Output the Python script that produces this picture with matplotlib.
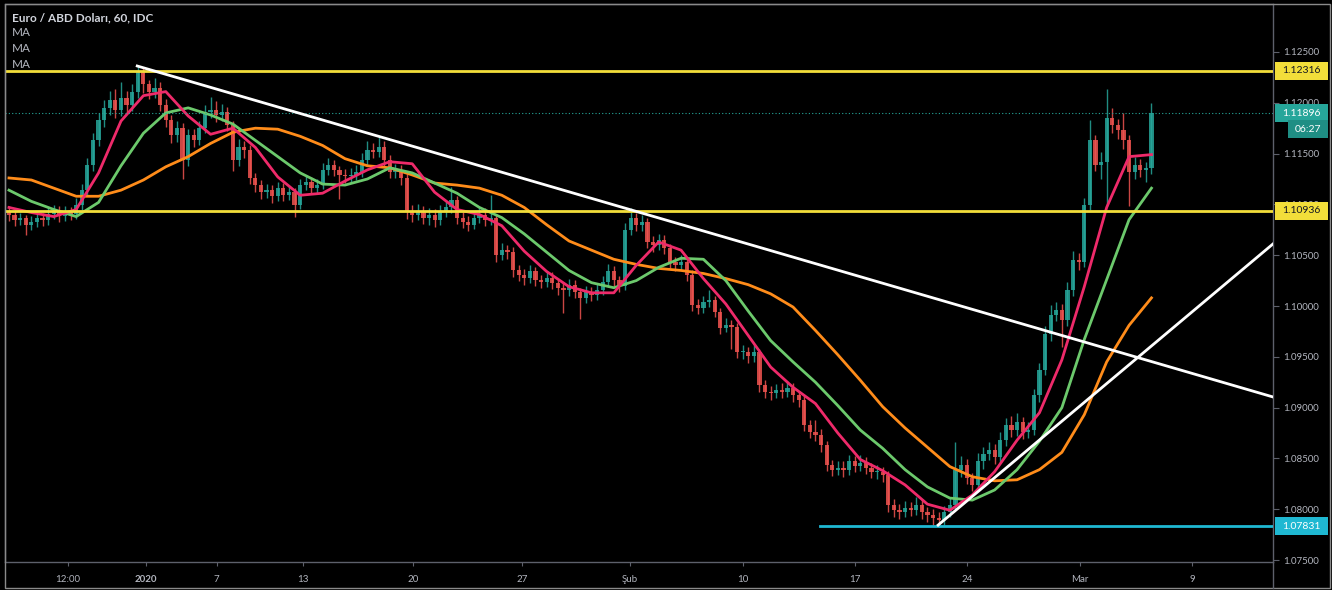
import matplotlib
matplotlib.use('Agg')
import matplotlib.pyplot as plt
from matplotlib.lines import Line2D
from matplotlib.patches import Rectangle
from matplotlib.ticker import FormatStrFormatter
import numpy as np

plt.rcParams['font.family'] = ['Lato', 'DejaVu Sans']

# EUR/USD, candles resampled to 6 hours
first_open = 1.1093
closes = [
    1.1090, 1.1085, 1.1087, 1.1080, 1.1083, 1.1087, 1.1085, 1.1091, 1.1093, 1.1089,
    1.1093, 1.1091, 1.1099, 1.1114, 1.1139, 1.1163, 1.1183, 1.1195, 1.1203, 1.1193,
    1.1205, 1.1198, 1.1211, 1.1230, 1.1218, 1.1211, 1.1215, 1.1198, 1.1183, 1.1168,
    1.1175, 1.1144, 1.1168, 1.1163, 1.1175, 1.1191, 1.1193, 1.1188, 1.1191, 1.1178,
    1.1144, 1.1156, 1.1154, 1.1126, 1.1119, 1.1112, 1.1114, 1.1108, 1.1116, 1.1109,
    1.1112, 1.1099, 1.1119, 1.1122, 1.1116, 1.1119, 1.1134, 1.1139, 1.1134, 1.1129,
    1.1128, 1.1129, 1.1132, 1.1144, 1.1154, 1.1152, 1.1156, 1.1144, 1.1132, 1.1134,
    1.1126, 1.1093, 1.1090, 1.1093, 1.1087, 1.1090, 1.1085, 1.1093, 1.1097, 1.1104,
    1.1087, 1.1083, 1.1080, 1.1087, 1.1090, 1.1085, 1.1087, 1.1050, 1.1055, 1.1053,
    1.1035, 1.1031, 1.1028, 1.1034, 1.1026, 1.1024, 1.1028, 1.1023, 1.1018, 1.1016,
    1.1021, 1.1014, 1.1008, 1.1014, 1.1011, 1.1016, 1.1024, 1.1034, 1.1026, 1.1020,
    1.1075, 1.1087, 1.1080, 1.1083, 1.1063, 1.1060, 1.1065, 1.1057, 1.1043, 1.1040,
    1.1043, 1.1031, 1.1001, 1.0998, 1.1004, 1.1006, 1.0994, 1.0978, 1.0981, 1.0979,
    1.0955, 1.0955, 1.0951, 1.0955, 1.0922, 1.0915, 1.0914, 1.0917, 1.0915, 1.0919,
    1.0912, 1.0908, 1.0883, 1.0876, 1.0873, 1.0863, 1.0844, 1.0839, 1.0841, 1.0839,
    1.0847, 1.0843, 1.0846, 1.0841, 1.0837, 1.0837, 1.0834, 1.0804, 1.0799, 1.0797,
    1.0801, 1.0799, 1.0804, 1.0797, 1.0794, 1.0791, 1.0789, 1.0797, 1.0804, 1.0839,
    1.0844, 1.0831, 1.0824, 1.0847, 1.0854, 1.0858, 1.0851, 1.0868, 1.0883, 1.0878,
    1.0886, 1.0876, 1.0878, 1.0912, 1.0937, 1.0972, 1.0991, 1.0996, 1.0986, 1.1016,
    1.1045, 1.1043, 1.1099, 1.1163, 1.1139, 1.1142, 1.1185, 1.1178, 1.1173, 1.1163,
    1.1132, 1.1139, 1.1134, 1.1136, 1.1190,
]
highs = [
    1.1098, 1.1094, 1.1092, 1.1090, 1.1089, 1.1093, 1.1092, 1.1097, 1.1099, 1.1098,
    1.1098, 1.1097, 1.1106, 1.1120, 1.1146, 1.1170, 1.1190, 1.1203, 1.1212, 1.1214,
    1.1220, 1.1212, 1.1218, 1.1236, 1.1234, 1.1222, 1.1224, 1.1220, 1.1204, 1.1188,
    1.1182, 1.1180, 1.1174, 1.1174, 1.1182, 1.1198, 1.1206, 1.1202, 1.1199, 1.1196,
    1.1182, 1.1164, 1.1162, 1.1158, 1.1131, 1.1124, 1.1120, 1.1119, 1.1122, 1.1121,
    1.1118, 1.1116, 1.1125, 1.1128, 1.1127, 1.1125, 1.1141, 1.1146, 1.1144, 1.1138,
    1.1135, 1.1136, 1.1139, 1.1151, 1.1162, 1.1160, 1.1166, 1.1162, 1.1149, 1.1140,
    1.1139, 1.1130, 1.1099, 1.1100, 1.1098, 1.1096, 1.1095, 1.1099, 1.1103, 1.1117,
    1.1108, 1.1093, 1.1089, 1.1093, 1.1096, 1.1096, 1.1109, 1.1091, 1.1062, 1.1060,
    1.1058, 1.1040, 1.1036, 1.1040, 1.1038, 1.1031, 1.1034, 1.1033, 1.1027, 1.1024,
    1.1027, 1.1026, 1.1018, 1.1020, 1.1019, 1.1022, 1.1030, 1.1041, 1.1039, 1.1030,
    1.1082, 1.1096, 1.1092, 1.1090, 1.1087, 1.1069, 1.1071, 1.1070, 1.1061, 1.1048,
    1.1050, 1.1048, 1.1035, 1.1007, 1.1010, 1.1016, 1.1010, 1.0998, 1.0988, 1.0986,
    1.0983, 1.0962, 1.0960, 1.0962, 1.0958, 1.0927, 1.0921, 1.0923, 1.0924, 1.0926,
    1.0924, 1.0916, 1.0912, 1.0888, 1.0888, 1.0879, 1.0867, 1.0848, 1.0847, 1.0847,
    1.0853, 1.0852, 1.0853, 1.0851, 1.0846, 1.0844, 1.0842, 1.0838, 1.0810, 1.0805,
    1.0808, 1.0807, 1.0812, 1.0810, 1.0802, 1.0800, 1.0797, 1.0803, 1.0811, 1.0866,
    1.0852, 1.0849, 1.0836, 1.0855, 1.0861, 1.0866, 1.0864, 1.0876, 1.0890, 1.0892,
    1.0895, 1.0891, 1.0886, 1.0918, 1.0944, 1.0980, 1.1001, 1.1004, 1.1002, 1.1024,
    1.1054, 1.1052, 1.1106, 1.1183, 1.1168, 1.1152, 1.1214, 1.1195, 1.1184, 1.1190,
    1.1168, 1.1147, 1.1145, 1.1142, 1.1200,
]
lows = [
    1.1084, 1.1079, 1.1080, 1.1070, 1.1075, 1.1078, 1.1079, 1.1080, 1.1086, 1.1083,
    1.1084, 1.1085, 1.1086, 1.1094, 1.1109, 1.1133, 1.1157, 1.1176, 1.1188, 1.1185,
    1.1187, 1.1190, 1.1192, 1.1205, 1.1210, 1.1204, 1.1205, 1.1192, 1.1176, 1.1160,
    1.1161, 1.1125, 1.1138, 1.1156, 1.1158, 1.1170, 1.1185, 1.1181, 1.1182, 1.1172,
    1.1133, 1.1138, 1.1146, 1.1120, 1.1112, 1.1105, 1.1106, 1.1101, 1.1103, 1.1103,
    1.1104, 1.1088, 1.1095, 1.1114, 1.1110, 1.1111, 1.1115, 1.1129, 1.1128, 1.1105,
    1.1121, 1.1122, 1.1124, 1.1127, 1.1139, 1.1146, 1.1147, 1.1138, 1.1126, 1.1126,
    1.1119, 1.1086, 1.1083, 1.1085, 1.1081, 1.1080, 1.1078, 1.1080, 1.1088, 1.1092,
    1.1081, 1.1077, 1.1074, 1.1076, 1.1082, 1.1079, 1.1080, 1.1043, 1.1045, 1.1046,
    1.1029, 1.1025, 1.1021, 1.1023, 1.1020, 1.1018, 1.1019, 1.1017, 1.1011, 1.0993,
    1.1010, 1.1008, 1.0987, 1.1003, 1.1005, 1.1006, 1.1011, 1.1019, 1.1020, 1.1014,
    1.1016, 1.1070, 1.1074, 1.1074, 1.1057, 1.1053, 1.1055, 1.1051, 1.1037, 1.1034,
    1.1035, 1.1025, 1.0995, 1.0992, 1.0993, 1.0999, 1.0989, 1.0972, 1.0974, 1.0958,
    1.0949, 1.0948, 1.0944, 1.0945, 1.0915, 1.0909, 1.0908, 1.0909, 1.0909, 1.0910,
    1.0906, 1.0901, 1.0877, 1.0870, 1.0867, 1.0856, 1.0838, 1.0833, 1.0834, 1.0832,
    1.0834, 1.0837, 1.0838, 1.0835, 1.0831, 1.0830, 1.0827, 1.0797, 1.0792, 1.0790,
    1.0792, 1.0793, 1.0794, 1.0790, 1.0787, 1.0785, 1.0783, 1.0785, 1.0792, 1.0800,
    1.0832, 1.0825, 1.0818, 1.0820, 1.0840, 1.0848, 1.0845, 1.0846, 1.0862, 1.0871,
    1.0872, 1.0869, 1.0870, 1.0873, 1.0906, 1.0932, 1.0966, 1.0985, 1.0960, 1.0980,
    1.1010, 1.1035, 1.1038, 1.1094, 1.1133, 1.1125, 1.1098, 1.1170, 1.1164, 1.1155,
    1.1098, 1.1125, 1.1127, 1.1122, 1.1130,
]
opens = [first_open] + closes[:-1]

# three moving averages, read every 4th candle
ma_idx = list(range(0, 205, 4))
ma_fast = [
    1.1097, 1.1092, 1.1088, 1.1095, 1.1131, 1.1182, 1.1207, 1.1211, 1.1187, 1.1169,
    1.1175, 1.1156, 1.1127, 1.1109, 1.1111, 1.1123, 1.1134, 1.1142, 1.1140, 1.1112,
    1.1095, 1.1090, 1.1079, 1.1054, 1.1034, 1.1019, 1.1013, 1.1013, 1.1040, 1.1063,
    1.1055, 1.1027, 1.1002, 1.0971, 1.0940, 1.0920, 1.0904, 1.0875, 1.0849, 1.0838,
    1.0824, 1.0805, 1.0799, 1.0814, 1.0837, 1.0868, 1.0895, 1.0947, 1.1019, 1.1097,
    1.1147, 1.1149,
]
ma_mid = [
    1.1114, 1.1103, 1.1095, 1.1088, 1.1102, 1.1138, 1.1170, 1.1190, 1.1195, 1.1188,
    1.1179, 1.1163, 1.1147, 1.1131, 1.1120, 1.1119, 1.1125, 1.1136, 1.1131, 1.1121,
    1.1111, 1.1097, 1.1087, 1.1071, 1.1053, 1.1035, 1.1023, 1.1018, 1.1025, 1.1038,
    1.1047, 1.1046, 1.1025, 1.0995, 1.0966, 1.0945, 1.0925, 1.0902, 1.0878, 1.0860,
    1.0839, 1.0822, 1.0811, 1.0809, 1.0819, 1.0839, 1.0867, 1.0900, 1.0967, 1.1026,
    1.1085, 1.1116,
]
ma_slow = [
    1.1126, 1.1124, 1.1116, 1.1108, 1.1108, 1.1114, 1.1124, 1.1137, 1.1147, 1.1160,
    1.1171, 1.1175, 1.1174, 1.1167, 1.1158, 1.1145, 1.1138, 1.1136, 1.1129, 1.1121,
    1.1119, 1.1116, 1.1109, 1.1097, 1.1080, 1.1064, 1.1055, 1.1046, 1.1041, 1.1037,
    1.1035, 1.1032, 1.1027, 1.1021, 1.1012, 1.0999, 1.0976, 1.0952, 1.0927, 1.0901,
    1.0880, 1.0861, 1.0842, 1.0832, 1.0828, 1.0829, 1.0839, 1.0856, 1.0893, 1.0945,
    1.0981, 1.1008,
]

# drawn levels and trend lines
level_top = 1.12316
level_mid = 1.10936
level_support = 1.07831
support_from = 144.8
last_price = 1.11896
down_x = [22.9, 225.7]
down_y = [1.12362, 1.09105]
up_x = [165.9, 225.7]
up_y = [1.07844, 1.10611]

x_tick_pos = [10.5, 24.5, 37.1, 52.5, 72.1, 91.6, 110.9, 131.1, 151.1, 171.1, 191.25, 211.25]
x_tick_labels = ['12:00', '2020', '7', '13', '20', '27', 'Şub', '10', '17', '24', 'Mar', '9']
y_ticks = [1.075, 1.080, 1.085, 1.090, 1.095, 1.100, 1.105, 1.110, 1.115, 1.120, 1.125]

UP = '#26a69a'
DOWN = '#ef5350'
YELLOW = '#f2de3a'
CYAN = '#1fb8d2'
GRID = '#5d606b'
TXT = '#b2b5be'

W, H = 1332, 590
fig = plt.figure(figsize=(W / 100, H / 100), dpi=100, facecolor='black')
ax = fig.add_axes([5 / W, 1 - 562 / H, (1273 - 5) / W, (562 - 4) / H])
ax.set_facecolor('black')
xlo, xhi = -0.71, 225.7
ax.set_xlim(xlo, xhi)
ax.set_ylim(1.07481, 1.12972)

# candles
x = np.arange(len(closes))
o = np.array(opens)
c = np.array(closes)
colors = np.where(c >= o, UP, DOWN)
ax.vlines(x, lows, highs, colors=colors, linewidth=1, alpha=0.85, zorder=2)
ax.bar(x, np.maximum(np.abs(c - o), 0.00004), bottom=np.minimum(o, c),
       width=0.75, color=colors, linewidth=0, alpha=0.85, zorder=2)

# moving averages
ax.plot(ma_idx, ma_slow, color='#ff8c1a', lw=2, zorder=3)
ax.plot(ma_idx, ma_mid, color='#6cc96c', lw=2, zorder=3)
ax.plot(ma_idx, ma_fast, color='#ee2a6a', lw=2, zorder=3)

# levels
ax.axhline(level_top, color=YELLOW, lw=2, zorder=4)
ax.axhline(level_mid, color=YELLOW, lw=2, zorder=4)
ax.axhline(level_support, xmin=(support_from - xlo) / (xhi - xlo), color=CYAN, lw=2, zorder=4)
ax.axhline(last_price, color=UP, lw=0.8, ls=(0, (1, 2)), zorder=4)
ax.plot(down_x, down_y, color='white', lw=2, zorder=5)
ax.plot(up_x, up_y, color='white', lw=2, zorder=5)

# axes styling
for s in ax.spines.values():
    s.set_color(GRID)
    s.set_linewidth(1)
ax.yaxis.tick_right()
ax.set_yticks(y_ticks)
ax.yaxis.set_major_formatter(FormatStrFormatter('%.5f'))
ax.tick_params(axis='y', colors=GRID, labelcolor=TXT, labelsize=7, length=4, pad=3)
ax.set_xticks(x_tick_pos)
ax.set_xticklabels(x_tick_labels)
ax.tick_params(axis='x', colors=GRID, labelcolor=TXT, labelsize=7, length=3, pad=6)
ax.get_xticklabels()[1].set_fontweight('bold')

# price tags on the right axis
per_px = (1.12972 - 1.07481) / 558
tr = ax.get_yaxis_transform()


def price_tag(price, label, face, color, x0=1.0016, width=0.0419):
    ax.add_patch(Rectangle((x0, price - 9 * per_px), width, 18 * per_px, transform=tr,
                           fc=face, ec='none', clip_on=False, zorder=6))
    ax.text(x0 + 0.0054, price, label, transform=tr, color=color, fontsize=7.5,
            va='center', ha='left', zorder=7, clip_on=False)


price_tag(level_top, f'{level_top:.5f}', YELLOW, '#131722')
price_tag(level_mid, f'{level_mid:.5f}', YELLOW, '#131722')
price_tag(level_support, f'{level_support:.5f}', CYAN, 'white')
price_tag(last_price, f'{last_price:.5f}', UP, 'white')
price_tag(last_price - 16 * per_px, '06:27', '#1f8e84', 'white', x0=1.0118, width=0.0316)

# header
fig.text(12 / W, 1 - 18 / H, 'Euro / ABD Doları, 60, IDC', color='#d1d4dc',
         fontsize=8.5, fontweight='bold', va='center')
for ty in (33, 48, 64):
    fig.text(12 / W, 1 - ty / H, 'MA', color=TXT, fontsize=8.5, va='center')

# outer frame and price-axis separator
fig.add_artist(Rectangle((5 / W, 2 / H), (1330 - 5) / W, (586 - 2) / H, transform=fig.transFigure,
                         fill=False, ec='#8a8a8a', lw=1))
fig.add_artist(Line2D([1273 / W, 1273 / W], [2 / H, 1 - 562 / H], transform=fig.transFigure,
                      color=GRID, lw=1))

fig.savefig('out.png', dpi=100, facecolor='black')
